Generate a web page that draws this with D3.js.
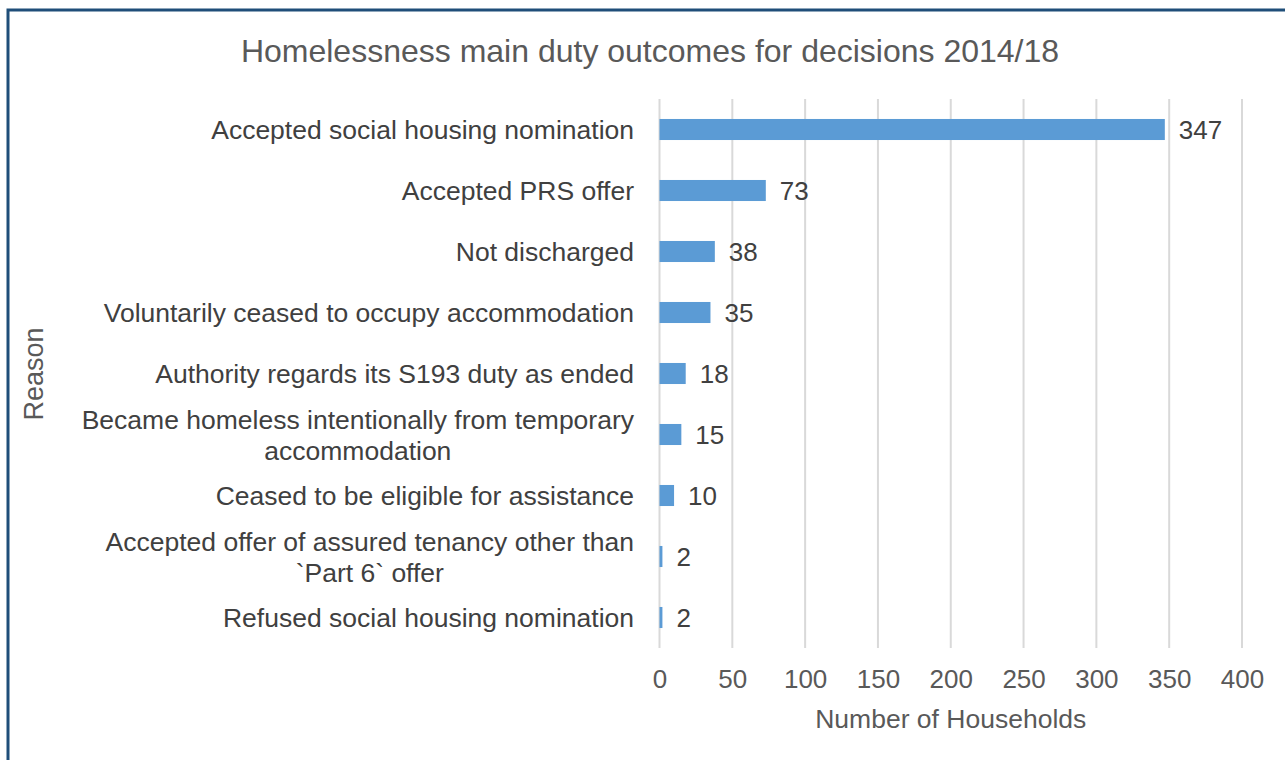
<!DOCTYPE html>
<html>
<head>
<meta charset="utf-8">
<script src="https://cdn.jsdelivr.net/npm/d3@7"></script>
<style>
  html, body { margin: 0; padding: 0; background: #fff; }
  svg { display: block; font-family: "Liberation Sans", Arial, sans-serif; }
</style>
</head>
<body>
<svg id="chart" width="1285" height="760"></svg>
<script>
// Main duty outcomes, 2014/18
const reasons = [
  ["Accepted social housing nomination"],
  ["Accepted PRS offer"],
  ["Not discharged"],
  ["Voluntarily ceased to occupy accommodation"],
  ["Authority regards its S193 duty as ended"],
  ["Became homeless intentionally from temporary", "accommodation"],
  ["Ceased to be eligible for assistance"],
  ["Accepted offer of assured tenancy other than", "`Part 6` offer"],
  ["Refused social housing nomination"]
];
const households = [347, 73, 38, 35, 18, 15, 10, 2, 2];
const xTicks = [0, 50, 100, 150, 200, 250, 300, 350, 400];

const svg = d3.select("#chart");
const W = 1285, H = 760;
const plot = { left: 659.5, right: 1242, top: 99, bottom: 648 };
const labelSize = "26.5px";

// outer frame
svg.append("path")
  .attr("d", `M8,${H + 5} L8,10 L${W + 5},10`)
  .attr("fill", "none")
  .attr("stroke", "#1f4e79")
  .attr("stroke-width", 3);

const x = d3.scaleLinear().domain([0, 400]).range([plot.left, plot.right]);
const y = d3.scaleBand()
  .domain(d3.range(reasons.length))
  .range([plot.top, plot.bottom])
  .paddingInner(0.655)
  .paddingOuter(0.3275);

// vertical gridlines
svg.append("g")
  .selectAll("line")
  .data(xTicks)
  .join("line")
  .attr("x1", d => x(d)).attr("x2", d => x(d))
  .attr("y1", plot.top).attr("y2", plot.bottom)
  .attr("stroke", "#d9d9d9")
  .attr("stroke-width", 2);

// x tick labels
const xAxis = d3.axisBottom(x).tickValues(xTicks).tickSize(0).tickPadding(0);
const gx = svg.append("g").attr("transform", `translate(0,${plot.bottom})`).call(xAxis);
gx.select(".domain").remove();
gx.selectAll("text")
  .attr("dy", null)
  .attr("y", 40)
  .attr("fill", "#595959")
  .style("font-size", "26px")
  .style("font-family", "'Liberation Sans', Arial, sans-serif");

// bars
svg.append("g")
  .selectAll("rect")
  .data(households)
  .join("rect")
  .attr("x", x(0))
  .attr("y", (d, i) => y(i))
  .attr("width", d => x(d) - x(0))
  .attr("height", y.bandwidth())
  .attr("fill", "#5b9bd5");

// value labels
svg.append("g")
  .selectAll("text")
  .data(households)
  .join("text")
  .attr("x", d => x(d) + 14)
  .attr("y", (d, i) => y(i) + y.bandwidth() / 2)
  .attr("dy", "0.36em")
  .attr("fill", "#404040")
  .style("font-size", "26px")
  .text(d => d);

// category labels (multi-line ones centred within a right-aligned block)
const catG = svg.append("g");
reasons.forEach((lines, i) => {
  const cy = y(i) + y.bandwidth() / 2;
  const lh = 31;
  const t = catG.append("text")
    .attr("fill", "#404040")
    .style("font-size", labelSize);
  if (lines.length === 1) {
    t.attr("x", 634).attr("y", cy).attr("dy", "0.36em")
      .attr("text-anchor", "end").text(lines[0]);
  } else {
    // measure widest line for the block, then centre each line inside it
    const probe = catG.append("text").style("font-size", labelSize).text(lines[0]);
    const wMax = d3.max(lines, l => { probe.text(l); return probe.node().getComputedTextLength(); });
    probe.remove();
    const cx = 634 - wMax / 2;
    t.attr("text-anchor", "middle");
    lines.forEach((l, k) => {
      t.append("tspan")
        .attr("x", cx)
        .attr("y", cy + (k - (lines.length - 1) / 2) * lh)
        .attr("dy", "0.36em")
        .text(l);
    });
  }
});

// title
svg.append("text")
  .attr("x", 650).attr("y", 50)
  .attr("dy", "0.36em")
  .attr("text-anchor", "middle")
  .attr("fill", "#595959")
  .style("font-size", "32px")
  .text("Homelessness main duty outcomes for decisions 2014/18");

// axis titles
svg.append("text")
  .attr("x", (plot.left + plot.right) / 2).attr("y", 718)
  .attr("dy", "0.36em")
  .attr("text-anchor", "middle")
  .attr("fill", "#595959")
  .style("font-size", labelSize)
  .text("Number of Households");

svg.append("text")
  .attr("transform", `translate(33,${374}) rotate(-90)`)
  .attr("dy", "0.36em")
  .attr("text-anchor", "middle")
  .attr("fill", "#595959")
  .style("font-size", "27px")
  .text("Reason");
</script>
</body>
</html>
